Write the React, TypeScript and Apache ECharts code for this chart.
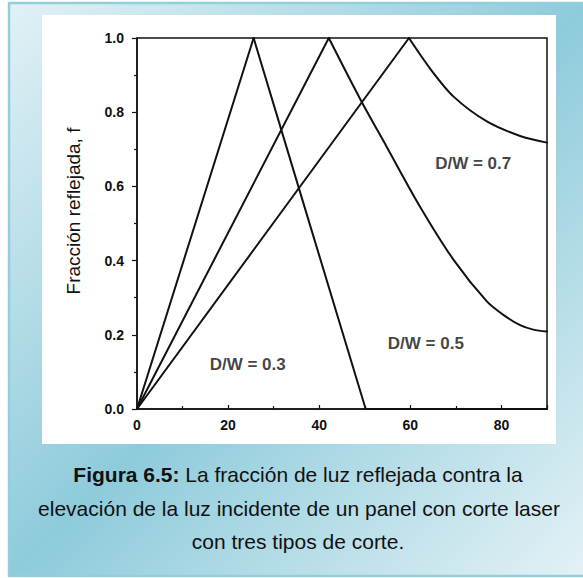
import React, { useEffect, useRef } from "react";
import * as echarts from "echarts";

// Elevation angle (degrees) and reflected fraction f for each cut ratio.
// "peak" = index of the maximum (f = 1) in each curve.
const dw03Angle = [0, 25.6, 38.0, 50.2, 90];
const dw03Frac = [0, 1.0, 0.495, 0, 0];
const dw03Peak = 1;

const dw05Angle = [0, 42.1, 49.1, 54.8, 62.1, 69.5, 76.8, 80.5, 84.1, 87.0, 90];
const dw05Frac = [0, 1.0, 0.833, 0.707, 0.546, 0.402, 0.29, 0.253, 0.226, 0.214, 0.209];
const dw05Peak = 1;

const dw07Angle = [0, 59.7, 64.5, 69.5, 76.8, 84.1, 90];
const dw07Frac = [0, 1.0, 0.915, 0.842, 0.775, 0.736, 0.718];
const dw07Peak = 1;

const curveLabels = ["D/W = 0.3", "D/W = 0.5", "D/W = 0.7"];
const labelAngle = [24.3, 63.4, 73.8];
const labelFrac = [0.12, 0.176, 0.661];

const yAxisTitle = "Fracción reflejada, f";
const captionBold = "Figura 6.5:";
const captionLine1 = " La fracción de luz reflejada contra la";
const captionLine2 = "elevación de la luz incidente de un panel con corte laser";
const captionLine3 = "con tres tipos de corte.";

const FONT = "'Liberation Sans', Arial, Helvetica, sans-serif";

const zip = (xs: number[], ys: number[]) => xs.map((x, i) => [x, ys[i]]);

export default function App() {
  const ref = useRef<HTMLDivElement>(null);

  useEffect(() => {
    if (!ref.current) return;
    const chart = echarts.init(ref.current, null, { renderer: "svg" });
    const lineSeries = (name: string, pts: number[][], smooth: number) => ({
      name,
      type: "line",
      data: pts,
      showSymbol: false,
      symbol: "none",
      smooth,
      lineStyle: { color: "#111", width: 2, cap: "round", join: "round" },
      z: 3,
    });
    const curve = (name: string, xs: number[], ys: number[], peak: number, smooth: number) => {
      const pts = zip(xs, ys);
      return [
        lineSeries(name, pts.slice(0, peak + 1), 0),
        lineSeries(name, pts.slice(peak), smooth),
      ];
    };
    chart.setOption({
      animation: false,
      grid: {
        left: 137,
        top: 38,
        width: 410,
        height: 371,
        show: true,
        borderColor: "#111",
        borderWidth: 1.5,
        outerBoundsMode: "none",
        containLabel: false,
      },
      xAxis: {
        type: "value",
        min: 0,
        max: 90,
        interval: 20,
        axisLine: { show: true, onZero: false, lineStyle: { color: "#111", width: 1.5 } },
        axisTick: { show: true, inside: true, length: 4, lineStyle: { color: "#111", width: 1.2 } },
        minorTick: { show: true, splitNumber: 2, length: 3, lineStyle: { color: "#111", width: 1.2 } },
        splitLine: { show: false },
        axisLabel: {
          showMaxLabel: false,
          margin: 9,
          color: "#111",
          fontFamily: FONT,
          fontWeight: "bold",
          fontSize: 14,
        },
      },
      yAxis: {
        type: "value",
        min: 0,
        max: 1,
        interval: 0.2,
        axisLine: { show: true, onZero: false, lineStyle: { color: "#111", width: 1.5 } },
        axisTick: { show: true, inside: false, length: 5, lineStyle: { color: "#111", width: 1.2 } },
        minorTick: { show: true, splitNumber: 2, length: 3, lineStyle: { color: "#111", width: 1.2 } },
        splitLine: { show: false },
        axisLabel: {
          margin: 13,
          color: "#111",
          fontFamily: FONT,
          fontWeight: "bold",
          fontSize: 14,
          formatter: (v: number) => v.toFixed(1),
        },
      },
      graphic: [
        {
          type: "rect",
          z: -20,
          silent: true,
          shape: { x: 9, y: 3, width: 580, height: 573 },
          style: {
            fill: new echarts.graphic.LinearGradient(0, 0, 1, 1, [
              { offset: 0, color: "#e2f1f6" },
              { offset: 0.5, color: "#8ecbdb" },
              { offset: 1, color: "#e4f2f6" },
            ]),
            stroke: "#93cedd",
            lineWidth: 2.5,
          },
        },
        {
          type: "rect",
          z: -10,
          silent: true,
          shape: { x: 42, y: 15, width: 514, height: 429 },
          style: { fill: "#ffffff" },
        },
        {
          type: "text",
          z: 5,
          x: 73,
          y: 211,
          rotation: Math.PI / 2,
          style: {
            text: yAxisTitle,
            font: `19px ${FONT}`,
            fill: "#111",
            align: "center",
            verticalAlign: "middle",
          },
        },
        {
          type: "text",
          z: 5,
          x: 298,
          y: 474,
          style: {
            text: `{b|${captionBold}}{n|${captionLine1}}`,
            rich: {
              b: { fontFamily: FONT, fontSize: 21, fontWeight: "bold", fill: "#111" },
              n: { fontFamily: FONT, fontSize: 21, fill: "#111" },
            },
            fill: "#111",
            align: "center",
            verticalAlign: "middle",
          },
        },
        {
          type: "text",
          z: 5,
          x: 299,
          y: 508,
          style: {
            text: captionLine2,
            font: `21px ${FONT}`,
            fill: "#111",
            align: "center",
            verticalAlign: "middle",
          },
        },
        {
          type: "text",
          z: 5,
          x: 298,
          y: 541,
          style: {
            text: captionLine3,
            font: `21px ${FONT}`,
            fill: "#111",
            align: "center",
            verticalAlign: "middle",
          },
        },
      ],
      series: [
        ...curve(curveLabels[0], dw03Angle, dw03Frac, dw03Peak, 0),
        ...curve(curveLabels[1], dw05Angle, dw05Frac, dw05Peak, 0.3),
        ...curve(curveLabels[2], dw07Angle, dw07Frac, dw07Peak, 0.3),
        {
          type: "scatter",
          symbolSize: 0,
          silent: true,
          z: 4,
          data: curveLabels.map((t, i) => ({ value: [labelAngle[i], labelFrac[i]], name: t })),
          label: {
            show: true,
            position: "inside",
            formatter: (p: any) => p.name,
            color: "#111",
            fontFamily: FONT,
            fontWeight: "bold",
            fontSize: 17,
          },
        },
      ],
    });
    return () => chart.dispose();
  }, []);

  return (
    <div
      ref={ref}
      style={{ position: "fixed", left: 0, top: 0, width: 583, height: 578, background: "#fff" }}
    />
  );
}
